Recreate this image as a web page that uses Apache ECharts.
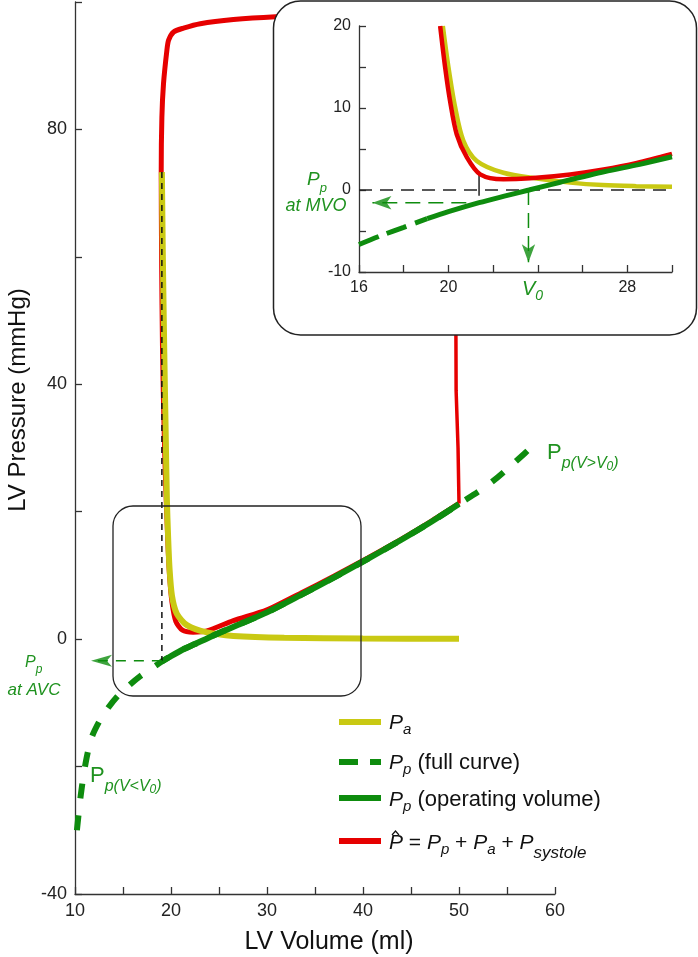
<!DOCTYPE html>
<html><head><meta charset="utf-8">
<script src="https://cdn.jsdelivr.net/npm/echarts@6/dist/echarts.min.js"></script>
<style>html,body{margin:0;padding:0;background:#fff}#c{width:698px;height:957px}</style>
</head><body><div id="c"></div>
<script>
// ---------------- data ----------------
// main panel tick labels
const xLabelsMain = [10, 20, 30, 40, 50, 60];
const yLabelsMain = [-40, 0, 40, 80];
// inset tick labels
const xLabelsInset = [16, 20, 28];
const yLabelsInset = [-10, 0, 10, 20];

// main panel: P_a (yellow)
const paV = [19.05, 19.15, 19.3, 19.45, 19.57, 19.7, 19.85, 20.1, 20.6, 21.66, 23.75, 26.5, 31.8, 40, 50];
const paP = [73.3, 60, 45, 32, 22, 16, 11, 6.8, 4.0, 2.2, 1.05, 0.5, 0.2, 0.1, 0.05];

// main panel: P_p full curve (dashed)
const ppFullV = [10.2, 10.6, 11.1, 11.7, 12.5, 13.3, 14.4, 15.6, 16.8, 18.0, 19.05, 20.0, 21.4, 22.5, 23.6, 25.0, 27.0, 30.0, 33.5, 37.0, 40.5, 44.0, 47.0, 50.0, 53.2, 55.7, 58.3];
const ppFullP = [-30, -24.5, -19.5, -15.6, -13.0, -11.1, -9.0, -7.3, -5.8, -4.6, -3.5, -2.65, -1.5, -0.75, 0, 0.95, 2.25, 4.2, 6.9, 9.7, 12.6, 15.6, 18.3, 21.2, 24.4, 27.6, 31.2];

// main panel: P_p operating volume (solid)
const ppOpV = [19.05, 20.0, 21.4, 22.5, 23.6, 25.0, 27.0, 30.0, 33.5, 37.0, 40.5, 44.0, 47.0, 50.0];
const ppOpP = [-3.5, -2.65, -1.5, -0.75, 0, 0.95, 2.25, 4.2, 6.9, 9.7, 12.6, 15.6, 18.3, 21.2];

// main panel: P-hat loop (red): ejection, relaxation, filling
const redLoopV = [49.7, 45, 40, 35, 30.9, 26.5, 23.05, 21.3, 20.27, 19.75, 19.57, 19.22, 19.05, 18.98, 19.02, 19.12, 19.28, 19.45, 19.6, 19.72, 19.87, 20.1, 20.5, 21.2, 22.3, 23.75, 26.5, 30, 33.5, 37, 40.5, 44, 47, 50.0];
const redLoopP = [98.3, 98.2, 98.1, 97.9, 97.7, 97.25, 96.6, 95.9, 95.3, 94.0, 92.4, 87.2, 81.9, 73.3, 60, 45, 33, 24, 18, 13.5, 9.5, 5.8, 2.8, 1.4, 1.1, 1.3, 2.9, 4.6, 7.2, 9.9, 12.75, 15.7, 18.4, 21.3];
// main panel: P-hat isovolumic contraction (thin red)
const redRightV = [50.0, 49.9, 49.7, 49.68, 49.7];
const redRightP = [21.3, 30, 39, 47.4, 98.3];

// main panel annotations
const avcLineV = [19.05, 19.05];
const avcLineP = [73.3, -3.4];
const avcArrowV = [19.05, 11.67];
const avcArrowP = [-3.4, -3.4];

// inset: curves
const inPaV = [19.75, 20.0, 20.3, 20.67, 21.27, 22.46, 23.96, 25.45, 26.9, 28.4, 30.0];
const inPaP = [20, 15, 10.1, 6.0, 3.55, 2.1, 1.4, 0.9, 0.6, 0.47, 0.4];
const inRedV = [19.63, 19.85, 20.07, 20.37, 20.82, 21.42, 22.46, 23.66, 25.45, 26.94, 28.43, 30.0];
const inRedP = [20, 15, 10.9, 6.8, 4.0, 1.9, 1.3, 1.43, 1.9, 2.5, 3.3, 4.4];
const inPpDashV = [16, 17, 18, 19.05];
const inPpDashP = [-6.65, -5.55, -4.55, -3.5];
const inPpOpV = [19.05, 20.0, 21.37, 22.5, 23.6, 25.0, 27.0, 28.5, 30.0];
const inPpOpP = [-3.5, -2.65, -1.55, -0.75, 0, 0.95, 2.25, 3.1, 4.05];
// inset annotations
const zeroV = [16, 30];
const zeroP = [0, 0];
const mvoTickV = [21.37, 21.37];
const mvoTickP = [1.9, -0.7];
const mvoArrowV = [20.8, 16.6];
const mvoArrowP = [-1.55, -1.55];
const v0ArrowV = [23.58, 23.58];
const v0ArrowP = [0, -8.8];

// ---------------- chart ----------------
const FONT = '"Liberation Sans", Arial, Helvetica, sans-serif';
const GREEN = '#0e8c0e', YEL = '#c9c913', RED = '#e60000', TG = '#1f921f', BLK = '#111';
const pairs = (xs, ys) => xs.map((v, i) => [v, ys[i]]);

const mctx = document.createElement('canvas').getContext('2d');
function tw(text, size, it) { mctx.font = (it ? 'italic ' : '') + size + 'px ' + FONT; return mctx.measureText(text).width; }
function T(x, y, text, size, o) {
  o = o || {};
  return { type: 'text', x: x, y: y, z: 100, silent: true, rotation: o.rot || 0,
    style: { text: text, fontSize: size, fontFamily: FONT, fontStyle: o.it ? 'italic' : 'normal',
      fill: o.c || BLK, textFill: o.c || BLK, align: o.a || 'left', textAlign: o.a || 'left',
      verticalAlign: 'middle', textVerticalAlign: 'middle' } };
}
function run(x, segs) {
  const out = []; let cx = x;
  segs.forEach(s => { out.push(T(cx, s[2], s[0], s[1], { it: s[3], c: s[4] })); cx += tw(s[0], s[1], s[3]); });
  return out;
}

function axisBase(fs, labels, extra) {
  return Object.assign({
    type: 'value',
    axisLine: { show: true, onZero: false, lineStyle: { color: '#333', width: 1.3 } },
    axisTick: { show: true, inside: true, length: 7, lineStyle: { color: '#333', width: 1.3 } },
    axisLabel: { show: true, fontSize: fs, fontFamily: FONT, color: '#222',
      formatter: v => labels.indexOf(v) >= 0 ? String(v) : '' },
    splitLine: { show: false }
  }, extra);
}

function line(name, xs, ys, color, width, type, z, xi, extra) {
  return Object.assign({
    name: name, type: 'line', xAxisIndex: xi, yAxisIndex: xi, data: pairs(xs, ys),
    symbol: 'none', silent: true, z: z, smooth: false,
    lineStyle: { color: color, width: width, type: type || 'solid' }
  }, extra || {});
}
function head(x, y, rot, size, z, xi) {
  return { type: 'scatter', xAxisIndex: xi, yAxisIndex: xi, data: [[x, y]], symbol: 'arrow',
    symbolRotate: rot, symbolSize: size, silent: true, z: z, itemStyle: { color: GREEN } };
}

const graphics = [
  { type: 'rect', z: 50, silent: true, shape: { x: 273.5, y: 1, width: 423, height: 334, r: 27 },
    style: { fill: '#fff', stroke: '#222', lineWidth: 1.5 } },
  { type: 'rect', z: 10, silent: true, shape: { x: 113, y: 506, width: 248, height: 190, r: 20 },
    style: { fill: 'none', stroke: '#222', lineWidth: 1.3 } },
  T(329, 942, 'LV Volume (ml)', 25, { a: 'center' }),
  T(18, 400, 'LV Pressure (mmHg)', 24, { a: 'center', rot: Math.PI / 2 }),
  // legend samples
  { type: 'line', z: 100, silent: true, shape: { x1: 339, y1: 722, x2: 381, y2: 722 }, style: { stroke: YEL, lineWidth: 6 } },
  { type: 'line', z: 100, silent: true, shape: { x1: 339, y1: 762, x2: 381, y2: 762 }, style: { stroke: GREEN, lineWidth: 6, lineDash: [19, 12] } },
  { type: 'line', z: 100, silent: true, shape: { x1: 339, y1: 798, x2: 381, y2: 798 }, style: { stroke: GREEN, lineWidth: 6 } },
  { type: 'line', z: 100, silent: true, shape: { x1: 339, y1: 841, x2: 381, y2: 841 }, style: { stroke: RED, lineWidth: 6 } },
  { type: 'polyline', z: 100, silent: true, shape: { points: [[392, 835], [395.5, 831], [399, 835]] }, style: { stroke: BLK, lineWidth: 1.2, fill: 'none' } }
]
.concat(run(389, [['P', 21, 723, 1], ['a', 15, 730, 1]]))
.concat(run(389, [['P', 21, 763, 1], ['p', 15, 770, 1], [' (full curve)', 22, 763, 0]]))
.concat(run(389, [['P', 21, 800, 1], ['p', 15, 807, 1], [' (operating volume)', 22, 800, 0]]))
.concat(run(389, [['P', 21, 843, 1], [' = ', 21, 843, 0], ['P', 21, 843, 1], ['p', 15, 850, 1], [' + ', 21, 843, 0],
  ['P', 21, 843, 1], ['a', 15, 850, 1], [' + ', 21, 843, 0], ['P', 21, 843, 1], ['systole', 17, 853, 1]]))
// curve annotations
.concat(run(547, [['P', 22, 453, 0, TG], ['p(V>V', 16, 464, 1, TG], ['0', 12, 467, 1, TG], [')', 16, 464, 1, TG]]))
.concat(run(90, [['P', 22, 776, 0, TG], ['p(V<V', 16, 787, 1, TG], ['0', 12, 790, 1, TG], [')', 16, 787, 1, TG]]))
.concat(run(25, [['P', 16, 663, 1, TG], ['p', 12, 670, 1, TG]]))
.concat([T(34, 690, 'at AVC', 17, { it: 1, a: 'center', c: TG })])
.concat(run(307, [['P', 19, 180, 1, TG], ['p', 13, 188, 1, TG]]))
.concat([T(316, 206, 'at MVO', 18, { it: 1, a: 'center', c: TG })])
.concat(run(522, [['V', 20, 289, 1, TG], ['0', 14, 296, 1, TG]]));

const option = {
  animation: false,
  backgroundColor: '#fff',
  grid: [
    { left: 75, top: 2, width: 480, height: 892, containLabel: false, outerBoundsMode: 'none' },
    { left: 359, top: 26, width: 313, height: 246, containLabel: false, outerBoundsMode: 'none', z: 60 }
  ],
  xAxis: [
    axisBase(18, xLabelsMain, { gridIndex: 0, min: 10, max: 60, interval: 5 }),
    axisBase(16, xLabelsInset, { gridIndex: 1, min: 16, max: 30, interval: 2, z: 60 })
  ],
  yAxis: [
    axisBase(18, yLabelsMain, { gridIndex: 0, min: -40, max: 100, interval: 20 }),
    axisBase(16, yLabelsInset, { gridIndex: 1, min: -10, max: 20, interval: 5, z: 60 })
  ],
  series: [
    // main panel
    line('P-hat', redLoopV, redLoopP, RED, 5, 'solid', 2, 0, { smooth: 0.25 }),
    line('P-hat contraction', redRightV, redRightP, RED, 3.5, 'solid', 2, 0),
    line('Pa', paV, paP, YEL, 6, 'solid', 3, 0, { smooth: 0.25 }),
    line('Pp full', ppFullV, ppFullP, GREEN, 6, [15, 17], 4, 0, { smooth: 0.3 }),
    line('Pp operating', ppOpV, ppOpP, GREEN, 6, 'solid', 5, 0, { smooth: 0.3 }),
    line('AVC line', avcLineV, avcLineP, '#111', 1.5, [6, 5], 6, 0),
    line('AVC arrow', avcArrowV, avcArrowP, GREEN, 1.5, [10, 8], 6, 0),
    head(avcArrowV[1], avcArrowP[1], 90, [9, 21], 6, 0),
    // inset panel
    line('zero', zeroV, zeroP, '#222', 1.5, [13, 8], 61, 1),
    line('MVO tick', mvoTickV, mvoTickP, '#222', 1.5, 'solid', 61, 1),
    line('Pa inset', inPaV, inPaP, YEL, 4.5, 'solid', 62, 1, { smooth: 0.3 }),
    line('P-hat inset', inRedV, inRedP, RED, 4.5, 'solid', 63, 1, { smooth: 0.3 }),
    line('Pp dashed inset', inPpDashV, inPpDashP, GREEN, 5, [21, 9], 64, 1, { smooth: 0.3 }),
    line('Pp op inset', inPpOpV, inPpOpP, GREEN, 5, 'solid', 64, 1, { smooth: 0.3 }),
    line('MVO arrow', mvoArrowV, mvoArrowP, GREEN, 1.5, [15, 8], 65, 1),
    head(mvoArrowV[1], mvoArrowP[1], 90, [10, 19], 65, 1),
    line('V0 arrow', v0ArrowV, v0ArrowP, GREEN, 1.5, [15, 8], 65, 1),
    head(v0ArrowV[1], v0ArrowP[1], 180, [10, 18], 65, 1)
  ],
  graphic: { elements: graphics }
};

const chart = echarts.init(document.getElementById('c'), null, { renderer: 'canvas', width: 698, height: 957 });
chart.setOption(option);
</script>
</body></html>
